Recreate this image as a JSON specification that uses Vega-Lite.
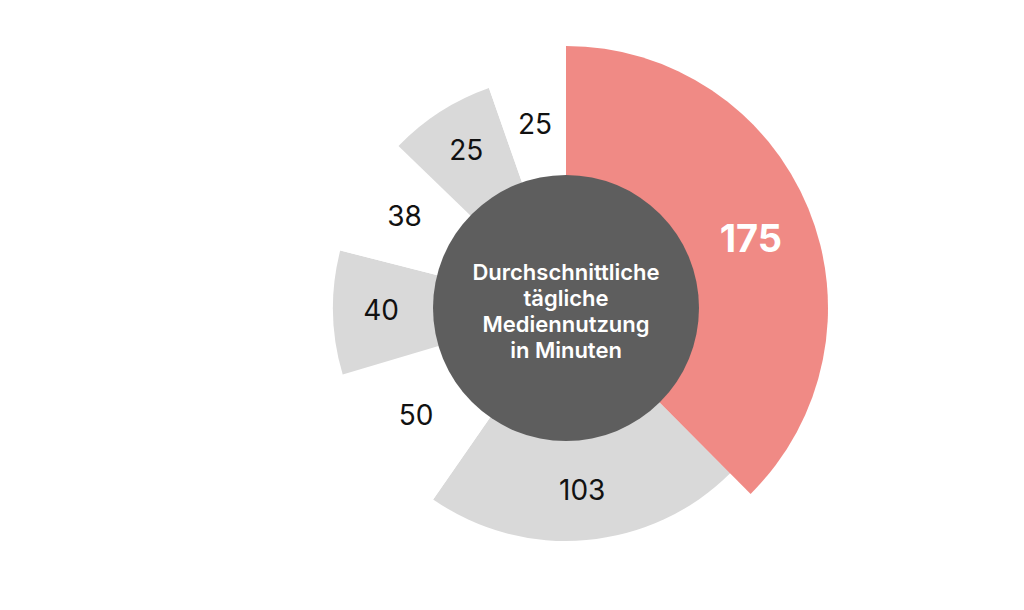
{
  "$schema": "https://vega.github.io/schema/vega-lite/v6.json",
  "width": 600,
  "height": 600,
  "autosize": "none",
  "padding": {"left": 266, "top": 8, "right": 0, "bottom": 0},
  "background": "white",
  "config": {"view": {"stroke": null}, "font": "Inter"},
  "layer": [
    {
      "data": {
        "values": [
          {"i": 1, "label": "175", "share": 175, "kind": "highlight"},
          {"i": 2, "label": "103", "share": 103, "kind": "gray"},
          {"i": 3, "label": "50", "share": 50, "kind": "white"},
          {"i": 4, "label": "40", "share": 40, "kind": "gray"},
          {"i": 5, "label": "38", "share": 38.5, "kind": "white"},
          {"i": 6, "label": "25", "share": 34.5, "kind": "gray"},
          {"i": 7, "label": "25", "share": 25, "kind": "white"}
        ]
      },
      "encoding": {
        "theta": {"field": "share", "type": "quantitative", "stack": true},
        "order": {"field": "i", "type": "quantitative"}
      },
      "layer": [
        {
          "mark": {"type": "arc", "radius": 233},
          "encoding": {
            "color": {
              "field": "kind",
              "type": "nominal",
              "scale": {
                "domain": ["highlight", "gray", "white"],
                "range": ["#f08a85", "#d9d9d9", "#ffffff"]
              },
              "legend": null
            }
          }
        },
        {
          "mark": {"type": "arc", "radius": 262, "fill": "#f08a85"},
          "encoding": {
            "opacity": {
              "condition": {"test": "datum.kind == 'highlight'", "value": 1},
              "value": 0
            }
          }
        },
        {
          "mark": {"type": "text", "radius": 185, "fontSize": 28, "fill": "#111111"},
          "encoding": {
            "text": {"field": "label"},
            "opacity": {
              "condition": {"test": "datum.kind == 'highlight'", "value": 0},
              "value": 1
            }
          }
        },
        {
          "mark": {"type": "text", "radius": 200, "dy": 9, "fontSize": 38, "fontWeight": "bold", "fill": "#ffffff"},
          "encoding": {
            "text": {"field": "label"},
            "opacity": {
              "condition": {"test": "datum.kind == 'highlight'", "value": 1},
              "value": 0
            }
          }
        }
      ]
    },
    {
      "data": {"values": [{"title": "Durchschnittliche\ntägliche\nMediennutzung\nin Minuten"}]},
      "layer": [
        {
          "mark": {"type": "circle", "size": 70756, "fill": "#5e5e5e", "opacity": 1},
          "encoding": {}
        },
        {
          "mark": {
            "type": "text",
            "lineBreak": "\n",
            "lineHeight": 26,
            "dy": -35,
            "fontSize": 22,
            "fontWeight": 600,
            "fill": "#ffffff",
            "align": "center",
            "baseline": "middle"
          },
          "encoding": {"text": {"field": "title"}}
        }
      ]
    }
  ]
}
